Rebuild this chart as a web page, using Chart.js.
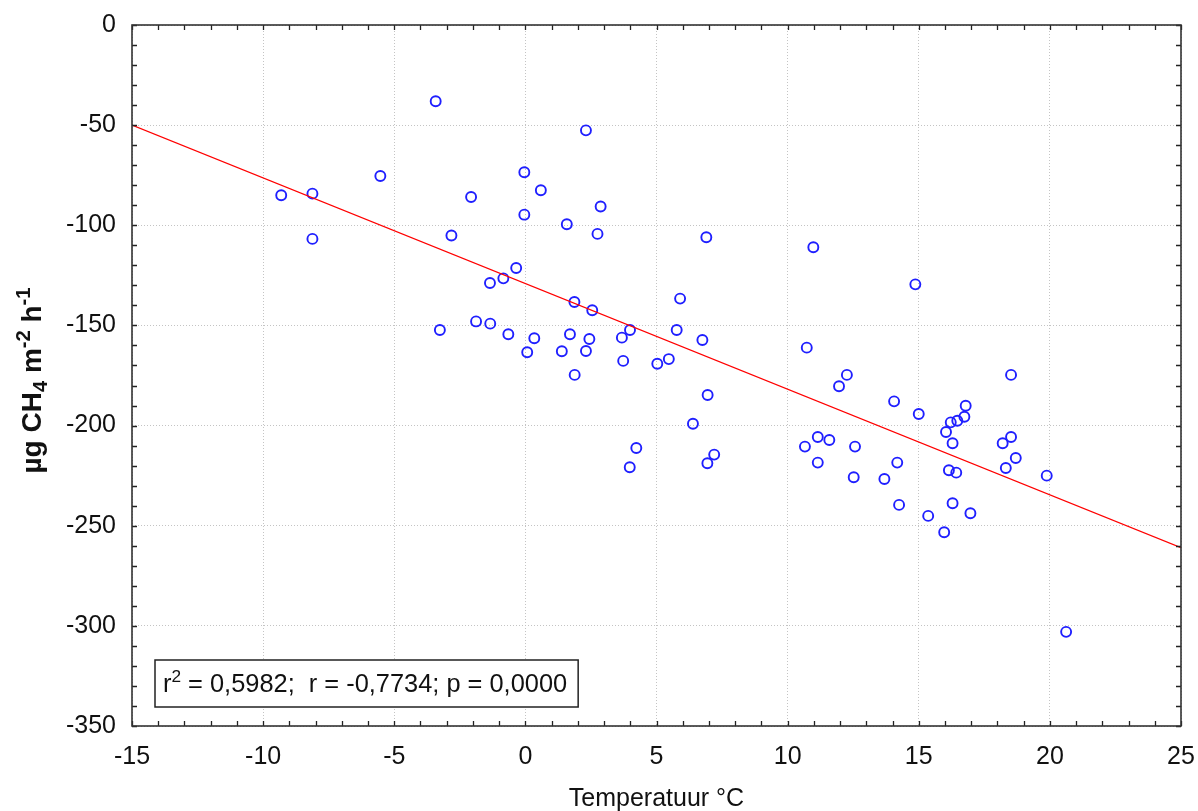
<!DOCTYPE html>
<html lang="nl">
<head>
    <meta charset="UTF-8">
    <title>CH4 flux vs temperatuur</title>
    <script src="https://cdn.jsdelivr.net/npm/chart.js"></script>
    <style>
        html, body {
            margin: 0;
            padding: 0;
            background: #ffffff;
        }
        .wrap {
            width: 1198px;
            height: 811px;
        }
    </style>
</head>
<body>
    <div class="wrap">
        <canvas id="chart" width="1198" height="811"></canvas>
    </div>

    <script>
        // Temperatuur (°C) per meting
        const temperatuur = [
            -9.31, -8.12, -8.12, -5.53, -3.42, -3.26, -2.82, -2.07, -1.88, -1.34,
            -1.35, -0.84, -0.65, -0.35, -0.04, -0.04, 0.07, 0.34, 0.59, 1.39,
            1.58, 1.70, 1.87, 1.88, 2.31, 2.31, 2.44, 2.55, 2.75, 2.87,
            3.68, 3.73, 3.99, 3.98, 4.23, 5.03, 5.47, 5.77, 5.90, 6.39,
            6.75, 6.90, 6.95, 6.94, 7.20, 10.73, 10.66, 10.98, 11.15, 11.15,
            11.59, 11.96, 12.26, 12.52, 12.57, 13.69, 14.06, 14.18, 14.25, 14.87,
            15.00, 15.36, 15.97, 16.04, 16.22, 16.29, 16.15, 16.29, 16.43, 16.47,
            16.74, 16.79, 16.97, 18.20, 18.52, 18.32, 18.52, 18.70, 19.88, 20.62
        ];
        // CH4 flux (µg CH4 m-2 h-1) per meting
        const flux = [
            -85.0, -84.2, -106.8, -75.4, -38.1, -152.3, -105.1, -85.9, -148.0, -149.1,
            -128.8, -126.5, -154.4, -121.3, -73.5, -94.7, -163.4, -156.4, -82.5, -162.9,
            -99.5, -154.4, -138.3, -174.7, -52.6, -162.8, -156.8, -142.4, -104.3, -90.6,
            -156.1, -167.7, -152.3, -220.8, -211.2, -169.1, -166.8, -152.3, -136.6, -199.1,
            -157.3, -106.0, -184.7, -218.8, -214.5, -161.1, -210.5, -111.0, -205.7, -218.5,
            -207.2, -180.4, -174.7, -225.8, -210.5, -226.7, -187.9, -218.5, -239.6, -129.5,
            -194.2, -245.1, -253.3, -203.2, -198.4, -208.8, -222.3, -238.8, -223.5, -197.6,
            -195.6, -190.1, -243.8, -208.8, -205.7, -221.2, -174.7, -216.2, -225.0, -303.0
        ];

        const fitX = [-15, 25];
        const fitY = [-50, -261];

        // assen
        const xTicks = [-15, -10, -5, 0, 5, 10, 15, 20, 25];
        const yTicks = [0, -50, -100, -150, -200, -250, -300, -350];
        const xMinorStep = 1;
        const yMinorStep = 10;

        const statsText = ['r', '2', ' = 0,5982;  r = -0,7734; p = 0,0000'];

        const FONT = "'Liberation Sans', Arial, sans-serif";

        const punten = temperatuur.map((t, i) => ({ x: t, y: flux[i] }));
        const lijn = fitX.map((x, i) => ({ x: x, y: fitY[i] }));

        // tekst met sub/superscript
        function drawRich(ctx, parts, x, y, size, weight) {
            let total = 0;
            parts.forEach(p => {
                ctx.font = weight + ' ' + (size * (p.s || 1)).toFixed(1) + 'px ' + FONT;
                p.w = ctx.measureText(p.t).width;
                total += p.w;
            });
            let cx = x - total / 2;
            parts.forEach(p => {
                ctx.font = weight + ' ' + (size * (p.s || 1)).toFixed(1) + 'px ' + FONT;
                ctx.fillText(p.t, cx, y + (p.dy || 0));
                cx += p.w;
            });
            return total;
        }

        // labels mogen niet buiten het plotvak duwen
        function noOverhang(s) {
            s.paddingTop = 0;
            s.paddingBottom = 0;
            s.paddingLeft = 0;
            s.paddingRight = 0;
        }

        const kader = {
            id: 'kader',
            afterDraw(chart) {
                const ctx = chart.ctx;
                const a = chart.chartArea;
                const sx = chart.scales.x;
                const sy = chart.scales.y;
                ctx.save();

                // kleine streepjes naar binnen
                ctx.strokeStyle = '#222222';
                ctx.lineWidth = 1.3;
                ctx.beginPath();
                for (let v = xTicks[0]; v <= xTicks[xTicks.length - 1]; v += xMinorStep) {
                    const px = Math.round(sx.getPixelForValue(v)) + 0.5;
                    ctx.moveTo(px, a.bottom); ctx.lineTo(px, a.bottom - 5);
                    ctx.moveTo(px, a.top); ctx.lineTo(px, a.top + 5);
                }
                for (let v = yTicks[yTicks.length - 1]; v <= yTicks[0]; v += yMinorStep) {
                    const py = Math.round(sy.getPixelForValue(v)) + 0.5;
                    ctx.moveTo(a.left, py); ctx.lineTo(a.left + 5, py);
                    ctx.moveTo(a.right, py); ctx.lineTo(a.right - 5, py);
                }
                ctx.stroke();

                // rand
                ctx.lineWidth = 1.6;
                ctx.strokeStyle = '#333333';
                ctx.strokeRect(a.left, a.top, a.right - a.left, a.bottom - a.top);

                // statistiek
                ctx.fillStyle = '#111111';
                ctx.textBaseline = 'alphabetic';
                ctx.textAlign = 'left';
                const size = 25.4;
                const parts = [
                    { t: statsText[0] },
                    { t: statsText[1], s: 0.68, dy: -10 },
                    { t: statsText[2] }
                ];
                let w = 0;
                parts.forEach(p => {
                    ctx.font = (size * (p.s || 1)).toFixed(1) + 'px ' + FONT;
                    w += ctx.measureText(p.t).width;
                });
                const bx = a.left + 23;
                const bh = 47;
                const by = a.bottom - 19 - bh;
                const bw = w + 19;
                ctx.fillStyle = '#ffffff';
                ctx.fillRect(bx, by, bw, bh);
                ctx.lineWidth = 1.5;
                ctx.strokeStyle = '#222222';
                ctx.strokeRect(bx, by, bw, bh);
                ctx.fillStyle = '#111111';
                drawRich(ctx, parts, bx + 8 + w / 2, by + 32, size, '');

                // x-as titel
                ctx.font = '25px ' + FONT;
                ctx.textAlign = 'center';
                ctx.fillText('Temperatuur °C', (a.left + a.right) / 2, 806);

                // y-as titel
                ctx.translate(41, (a.top + a.bottom) / 2 + 5);
                ctx.rotate(-Math.PI / 2);
                ctx.textAlign = 'left';
                drawRich(ctx, [
                    { t: 'µg CH' },
                    { t: '4', s: 0.72, dy: 6 },
                    { t: ' m' },
                    { t: '-2', s: 0.72, dy: -11 },
                    { t: ' h' },
                    { t: '-1', s: 0.72, dy: -11 }
                ], 0, 0, 28, 'bold');

                ctx.restore();
            }
        };

        const ctx = document.getElementById('chart').getContext('2d');

        new Chart(ctx, {
            type: 'scatter',
            data: {
                datasets: [
                    {
                        label: 'metingen',
                        data: punten,
                        pointStyle: 'circle',
                        pointRadius: 5,
                        pointBorderWidth: 1.9,
                        borderColor: '#1f1fff',
                        backgroundColor: 'rgba(0,0,0,0)',
                        order: 2
                    },
                    {
                        type: 'line',
                        label: 'regressie',
                        data: lijn,
                        showLine: true,
                        borderColor: '#ff0000',
                        borderWidth: 1.2,
                        pointRadius: 0,
                        fill: false,
                        order: 1
                    }
                ]
            },
            options: {
                responsive: false,
                animation: false,
                layout: {
                    padding: { left: 0, top: 25, right: 17, bottom: 0 }
                },
                plugins: {
                    legend: { display: false },
                    tooltip: { enabled: false }
                },
                scales: {
                    x: {
                        type: 'linear',
                        min: xTicks[0],
                        max: xTicks[xTicks.length - 1],
                        afterBuildTicks: (s) => { s.ticks = xTicks.map(v => ({ value: v })); },
                        afterFit: (s) => { s.height = 85; noOverhang(s); },
                        grid: {
                            color: '#c4c4c4',
                            lineWidth: 1,
                            drawTicks: false
                        },
                        border: { display: false, dash: [1, 2] },
                        ticks: {
                            color: '#111111',
                            padding: 16,
                            font: { family: FONT, size: 25 }
                        }
                    },
                    y: {
                        type: 'linear',
                        min: yTicks[yTicks.length - 1],
                        max: yTicks[0],
                        afterBuildTicks: (s) => { s.ticks = yTicks.slice().reverse().map(v => ({ value: v })); },
                        afterFit: (s) => { s.width = 132; noOverhang(s); },
                        grid: {
                            color: '#c4c4c4',
                            lineWidth: 1,
                            drawTicks: false
                        },
                        border: { display: false, dash: [1, 2] },
                        ticks: {
                            color: '#111111',
                            padding: 16,
                            font: { family: FONT, size: 25 }
                        }
                    }
                }
            },
            plugins: [kader]
        });
    </script>
</body>
</html>
